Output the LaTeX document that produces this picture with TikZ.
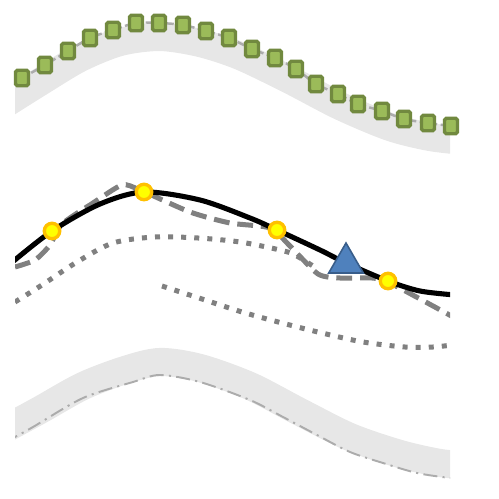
\documentclass[tikz,border=0pt]{standalone}
\usetikzlibrary{shapes.geometric}
\definecolor{bandgray}{RGB}{231,231,231}
\definecolor{sqfill}{RGB}{155,187,89}
\definecolor{sqborder}{RGB}{113,137,63}
\definecolor{ptfill}{RGB}{255,255,0}
\definecolor{ptborder}{RGB}{255,192,0}
\definecolor{trifill}{RGB}{79,129,189}
\definecolor{triborder}{RGB}{56,93,138}

\begin{document}
\begin{tikzpicture}[
x=0.02cm, y=-0.02cm,
band/.style={draw=bandgray, line width=16pt},
sqline/.style={draw=gray!65, line width=1.4pt, dash pattern=on 4pt off 2pt},
solidline/.style={draw=black, line width=2.9pt},
dashline/.style={draw=gray, line width=2.85pt, dash pattern=on 9pt off 4.5pt},
dotline/.style={draw=gray, line width=2.85pt, dash pattern=on 2.85pt off 4.6pt},
dashdotline/.style={draw=gray!65, line width=1.1pt, dash pattern=on 8pt off 3pt on 1.2pt off 3pt},
sqmark/.style={rectangle, draw=sqborder, fill=sqfill, line width=1.9pt, rounded corners=1pt,
  minimum width=0.26cm, minimum height=0.31cm, inner sep=0pt},
ptmark/.style={circle, draw=ptborder, fill=ptfill, line width=1.9pt, minimum size=0.31cm, inner sep=0pt},
trimark/.style={regular polygon, regular polygon sides=3, draw=triborder, fill=trifill,
  line width=0.9pt, minimum size=0.8cm, inner sep=0pt}
]
\useasboundingbox (0,0) rectangle (499,499);

\begin{scope}
\clip (15,0) rectangle (450,499);

% shaded bands
\draw[band] plot[smooth] coordinates {(5,104) (40,82) (80,58) (120,42) (160,37) (200,43)
  (240,56) (290,80) (340,106) (390,127) (430,137) (465,141)};
\draw[band] plot[smooth] coordinates {(5,429) (40,410) (83,386) (125,370) (160,362)
  (200,368) (250,386) (300,412) (350,437) (400,454) (440,463) (465,465)};

% line through the squares
\draw[sqline] plot[smooth] coordinates {(22,78) (45,65) (68,51) (90,38) (113,30) (136,23)
  (159,23) (183,25) (206,31) (229,38) (252,49) (275,58) (296,69) (316,84) (338,94)
  (358,104) (382,111) (404,119) (428,123) (451,126)};

% dotted series
\draw[dotline] plot[smooth] coordinates {(15,302) (42,285) (77,262) (113,243) (155,237)
  (198,238) (240,242) (280,250) (295,255) (316,268)};
\draw[dotline] plot[smooth] coordinates {(162,286) (202,299) (242,312) (282,323)
  (322,333) (363,342) (405,347) (433,347) (452,345)};

% dashed series
\draw[dashline] plot[smooth, tension=0.4] coordinates {(15,267) (35,260) (50,245)
  (62,224) (93,203) (122,185) (140,190) (190,212) (230,223) (270,228) (290,246)
  (318,274) (340,278) (372,278) (390,283) (455,318)};

% solid series
\draw[solidline] plot[smooth] coordinates {(10,264) (52,231) (100,204) (144,192) (200,200)
  (250,218) (277,230) (320,250) (346,263) (388,281) (420,291) (455,295)};

% dash-dot series
\draw[dashdotline] plot[smooth] coordinates {(5,443) (15,437) (33,427) (83,398) (133,382)
  (160,375) (200,382) (250,400) (283,417) (317,435) (350,452) (383,463) (417,473)
  (450,478) (465,479)};
\end{scope}

% markers
\foreach \px/\py [count=\i] in {22/78, 45/65, 68/51, 90/38, 113/30, 136/23, 159/23,
  183/25, 206/31, 229/38, 252/49, 275/58, 296/69, 316/84, 338/94, 358/104, 382/111,
  404/119, 428/123, 451/126}
  \node[sqmark] (sq\i) at (\px,\py) {};

\foreach \px/\py [count=\i] in {52/231, 144/192, 277/230, 388/281}
  \node[ptmark] (pt\i) at (\px,\py) {};

\node[trimark] (tri) at (346,263) {};

\end{tikzpicture}
\end{document}
